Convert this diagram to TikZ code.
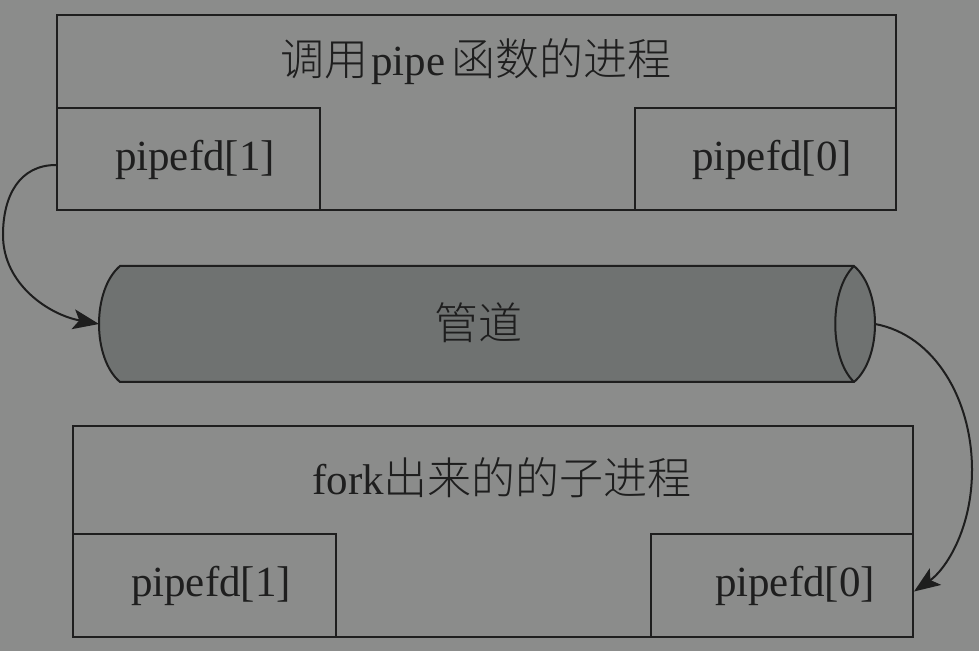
\documentclass[tikz,border=0pt]{standalone}
\usepackage{fontspec}
\setmainfont{Liberation Serif}
\newfontfamily\cjk{Noto Sans CJK SC}[UprightFont=* Light]
\usetikzlibrary{arrows.meta}
\definecolor{bgc}{HTML}{8B8C8B}
\definecolor{cylc}{HTML}{6F7271}
\definecolor{linec}{HTML}{1E1E1E}
\tikzset{
  box/.style={draw=linec, line width=1pt, inner sep=0pt, fill=none},
  lbl/.style={text=linec, inner sep=0pt, font=\fontsize{21.5}{25}\selectfont},
  conn/.style={draw=linec, line width=1pt, -{Stealth[length=13pt,width=10pt,inset=3pt]}},
}
\newcommand{\zh}[1]{{\cjk\fontsize{22}{25}\selectfont #1}}
\begin{document}
\begin{tikzpicture}[x=0.5pt,y=-0.5pt]
\fill[bgc] (0,0) rectangle (979,651);
\useasboundingbox (0,0) rectangle (979,651);
% top process
\node[box, minimum width=419.5pt, minimum height=97.5pt] (top) at (476.5,112.5) {};
\node[box, minimum width=131.5pt, minimum height=51pt] (t1) at (188.5,159) {};
\node[box, minimum width=130.5pt, minimum height=51pt] (t0) at (765.5,159) {};
\node[lbl] (toptitle) at (476,62) {\zh{调用}\kern1.5pt pipe\kern3pt\zh{函数的进程}};
\node[lbl] (t1txt) at (195,160) {pipefd[1]};
\node[lbl] (t0txt) at (772,160) {pipefd[0]};
% pipe cylinder
\filldraw[fill=cylc, draw=linec, line width=1pt]
  (120,266) -- (854,266)
  .. controls (882,290) and (882,358) .. (854,382)
  -- (120,382)
  .. controls (92,358) and (92,290) .. (120,266) -- cycle;
\draw[draw=linec, line width=1pt] (854,266) .. controls (829,290) and (829,358) .. (854,382);
\coordinate (pipeW) at (99,324);
\coordinate (pipeE) at (875,324);
\node[lbl] (pipetxt) at (478,323) {\zh{管道}};
% bottom process
\node[box, minimum width=420pt, minimum height=105.5pt] (bot) at (493,531.5) {};
\node[box, minimum width=131.5pt, minimum height=51.5pt] (b1) at (204.5,585.5) {};
\node[box, minimum width=131pt, minimum height=51.5pt] (b0) at (782,585.5) {};
\node[lbl] (bottitle) at (502,478) {fork\zh{出来的的子进程}};
\node[lbl] (b1txt) at (211,586) {pipefd[1]};
\node[lbl] (b0txt) at (795,586) {pipefd[0]};
% connectors
\draw[conn] ([yshift=-3pt]t1.west) .. controls (20,165) and (3,195) .. (3,235)
  .. controls (3,285) and (50,315) .. (pipeW);
\draw[conn] (pipeE) .. controls (935,335) and (972,400) .. (972,470)
  .. controls (972,530) and (945,570) .. ([yshift=-3pt]b0.east);
\end{tikzpicture}
\end{document}
